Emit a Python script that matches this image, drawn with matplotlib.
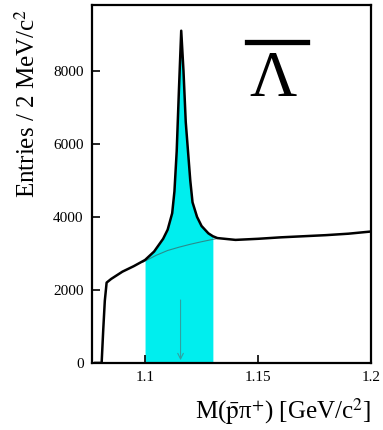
import numpy as np
import matplotlib
matplotlib.use("Agg")
import matplotlib.pyplot as plt

# p-bar pi+ invariant mass, entries per 2 MeV/c^2
mass = np.array([1.0780, 1.0808, 1.0815, 1.0822, 1.0830, 1.0850, 1.0900, 1.0950,
                 1.1000, 1.1040, 1.1080, 1.1100, 1.1120, 1.1130, 1.1140, 1.1150,
                 1.1160, 1.1170, 1.1180, 1.1190, 1.1200, 1.1210, 1.1230, 1.1250,
                 1.1280, 1.1300, 1.1320, 1.1400, 1.1500, 1.1600, 1.1700, 1.1800,
                 1.1900, 1.2000])
entries = np.array([0, 0, 900, 1700, 2200, 2300, 2500, 2650,
                    2820, 3050, 3400, 3650, 4100, 4700, 5800, 7500,
                    9100, 8000, 6600, 5800, 5000, 4400, 4000, 3750,
                    3550, 3470, 3420, 3370, 3400, 3440, 3470, 3500,
                    3540, 3600])

# background under the peak
bkg_mass = np.array([1.0990, 1.1050, 1.1100, 1.1150, 1.1200, 1.1250, 1.1320])
bkg_entries = np.array([2760, 2950, 3080, 3170, 3250, 3320, 3410])

sig_lo, sig_hi = 1.10, 1.13
lambda_mass = 1.1157
arrow_top = 1800

plt.rcParams['font.family'] = ['Liberation Serif', 'DejaVu Serif']
plt.rcParams['mathtext.fontset'] = 'stix'

fig = plt.figure(figsize=(3.83, 4.30), dpi=100)
ax = fig.add_axes([0.240, 0.156, 0.729, 0.832])

sel = (mass >= sig_lo) & (mass <= sig_hi)
ax.fill_between(mass, 0, entries, where=sel, color='#00EEEE', lw=0)
ax.plot(bkg_mass, bkg_entries, color='#2a8c8c', lw=0.8)
ax.plot(mass, entries, color='black', lw=1.8)
ax.annotate('', xy=(lambda_mass, 0), xytext=(lambda_mass, arrow_top),
            arrowprops=dict(arrowstyle='->', color='#30a0a0', lw=0.8))

ax.set_xlim(1.0765, 1.2)
ax.set_ylim(0, 9800)
ax.set_xticks([1.1, 1.15, 1.2])
ax.set_xticklabels(['1.1', '1.15', '1.2'])
ax.set_yticks([0, 2000, 4000, 6000, 8000])
ax.tick_params(direction='in', length=6, width=1.2, labelsize=11, pad=6)
for s in ax.spines.values():
    s.set_linewidth(1.6)

# Lambda-bar label
ax.text(0.648, 0.79, 'Λ', transform=ax.transAxes, fontsize=47,
        ha='center', va='center')
ax.plot([0.556, 0.771], [0.897, 0.897], transform=ax.transAxes, color='black', lw=3.8)

fig.text(0.072, 0.76, r'Entries / 2 MeV/c$^{2}$', rotation=90,
         ha='center', va='center', fontsize=18)
fig.text(0.968, 0.044, r'M($\bar{\rm p}$π$^{+}$) [GeV/c$^{2}$]',
         ha='right', va='center', fontsize=18)

fig.savefig('out.png', dpi=100)
